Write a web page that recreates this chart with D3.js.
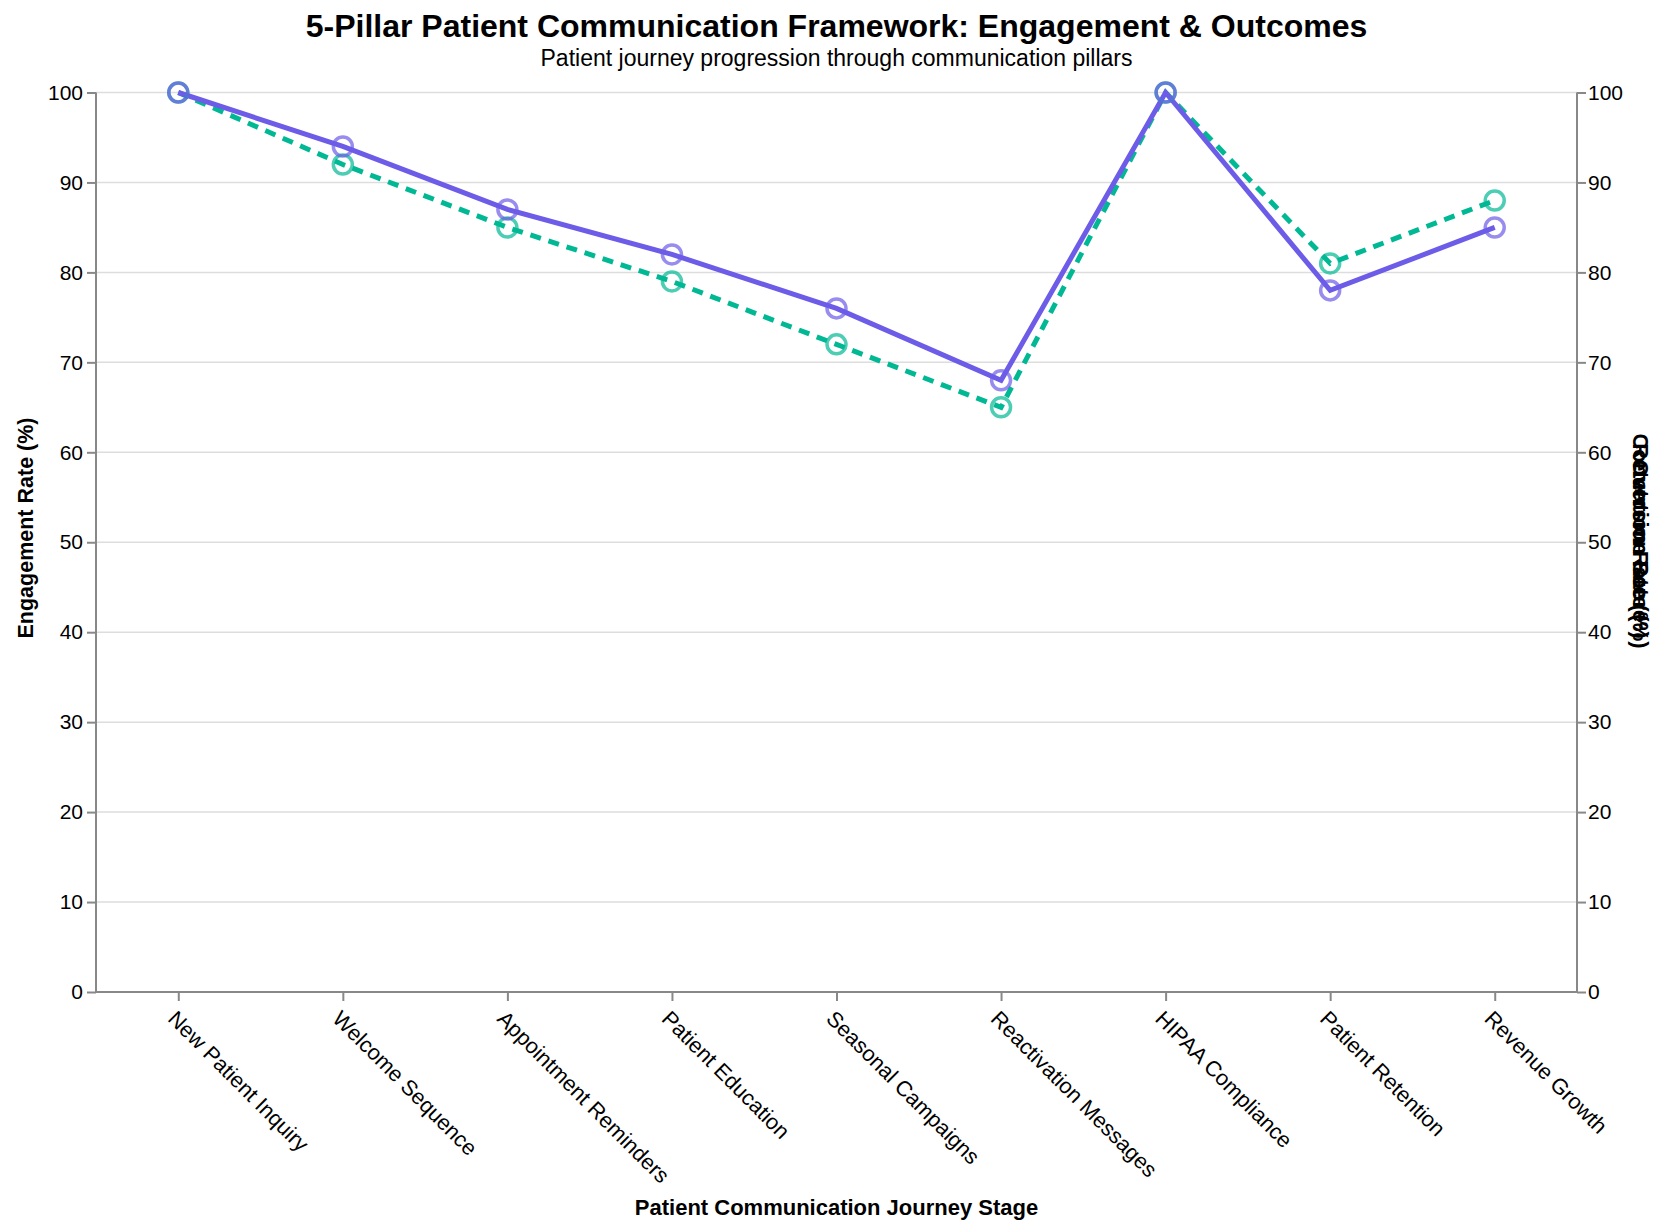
<!DOCTYPE html>
<html>
<head>
<meta charset="utf-8">
<script src="https://cdn.jsdelivr.net/npm/d3@7"></script>
<style>
body{margin:0;background:#fff;}
text{font-family:"Liberation Sans",Arial,sans-serif;}
</style>
</head>
<body>
<svg id="chart" width="1664" height="1230"></svg>
<script>
const stages = ["New Patient Inquiry","Welcome Sequence","Appointment Reminders","Patient Education","Seasonal Campaigns","Reactivation Messages","HIPAA Compliance","Patient Retention","Revenue Growth"];
const engagement = [100,94,87,82,76,68,100,78,85];
const outcome = [100,92,85,79,72,65,100,81,88];
const yTicks = [0,10,20,30,40,50,60,70,80,90,100];
const rightTitles = ["Retention Rate (%)","Outcome Score","Conversion Rate (%)"];

const svg = d3.select("#chart");
const L = 96, R = 1577, T = 92.5, B = 992;
const x = d3.scalePoint().domain(stages).range([L,R]).padding(0.5);
const y = d3.scaleLinear().domain([0,100]).range([B,T]);
const y2 = d3.scaleLinear().domain([0,100]).range([B,T]);

// grid
svg.append("g").selectAll("line").data(yTicks).join("line")
  .attr("x1",L).attr("x2",R).attr("y1",d=>y(d)).attr("y2",d=>y(d))
  .attr("stroke","#dddddd").attr("stroke-width",1.5);

// axes
const gl = svg.append("g").attr("transform",`translate(${L},0)`)
  .call(d3.axisLeft(y).tickValues(yTicks).tickSize(9).tickPadding(4));
const gr = svg.append("g").attr("transform",`translate(${R},0)`)
  .call(d3.axisRight(y2).tickValues(yTicks).tickSize(9).tickPadding(2));
const gb = svg.append("g").attr("transform",`translate(0,${B})`)
  .call(d3.axisBottom(x).tickSize(9).tickSizeOuter(0));
gb.selectAll(".tick text")
  .attr("text-anchor","start").attr("dy",null).attr("y",0)
  .attr("transform","translate(-12,28) rotate(45)")
  .attr("font-size",21.7);

[gl,gr,gb].forEach(g=>{
  g.selectAll(".domain").attr("stroke","#888").attr("stroke-width",2);
  g.selectAll(".tick line").attr("stroke","#888").attr("stroke-width",2);
  g.selectAll(".tick text").attr("fill","#000").style("font-family","Liberation Sans, Arial, sans-serif");
});
gl.selectAll(".tick text").attr("font-size",21);
gr.selectAll(".tick text").attr("font-size",21);
gl.select(".domain").attr("d",`M0,${T}V${B}`);
gr.select(".domain").attr("d",`M0,${T}V${B}`);
gb.select(".domain").attr("d",`M${L},0H${R}`);

// lines
const line = d3.line().x((d,i)=>x(stages[i])).y(d=>y(d));
svg.append("path").datum(outcome).attr("d",line)
  .attr("fill","none").attr("stroke","#00b894").attr("stroke-width",5)
  .attr("stroke-dasharray","11,8");
svg.append("path").datum(engagement).attr("d",line)
  .attr("fill","none").attr("stroke","#6c5ce7").attr("stroke-width",5);

// points
svg.append("g").selectAll("circle").data(outcome).join("circle")
  .attr("cx",(d,i)=>x(stages[i])).attr("cy",d=>y(d)).attr("r",9.5)
  .attr("fill","none").attr("stroke","#00b894").attr("stroke-opacity",0.7).attr("stroke-width",3.5);
svg.append("g").selectAll("circle").data(engagement).join("circle")
  .attr("cx",(d,i)=>x(stages[i])).attr("cy",d=>y(d)).attr("r",9.5)
  .attr("fill","none").attr("stroke","#6c5ce7").attr("stroke-opacity",0.7).attr("stroke-width",3.5);

// titles
svg.append("text").attr("x",(L+R)/2).attr("y",37).attr("text-anchor","middle")
  .attr("font-size",32).attr("font-weight","bold").text("5-Pillar Patient Communication Framework: Engagement & Outcomes");
svg.append("text").attr("x",(L+R)/2).attr("y",66).attr("text-anchor","middle")
  .attr("font-size",23).text("Patient journey progression through communication pillars");
svg.append("text").attr("transform",`translate(33,528) rotate(-90)`).attr("text-anchor","middle")
  .attr("font-size",21.5).attr("font-weight","bold").text("Engagement Rate (%)");
svg.append("text").attr("x",(L+R)/2).attr("y",1215).attr("text-anchor","middle")
  .attr("font-size",22).attr("font-weight","bold").text("Patient Communication Journey Stage");
svg.append("g").selectAll("text").data(rightTitles).join("text")
  .attr("transform",`translate(1633,541) rotate(90)`).attr("text-anchor","middle")
  .attr("font-size",22).attr("font-weight","bold").text(d=>d);
</script>
</body>
</html>
